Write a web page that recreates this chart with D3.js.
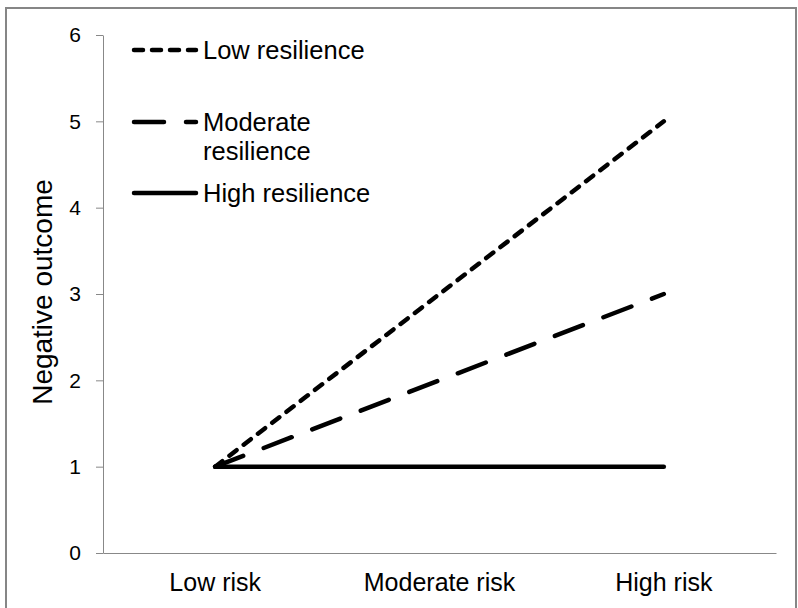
<!DOCTYPE html>
<html>
<head>
<meta charset="utf-8">
<script src="https://cdn.jsdelivr.net/npm/d3@7"></script>
<style>
  body { margin: 0; background: #fff; }
  text { font-family: "Liberation Sans", Arial, sans-serif; fill: #000; }
</style>
</head>
<body>
<div id="chart"></div>
<script>
const categories = ["Low risk", "Moderate risk", "High risk"];
const lowResilience = [1, 3, 5];
const moderateResilience = [1, 2, 3];
const highResilience = [1, 1, 1];
const yTicks = [0, 1, 2, 3, 4, 5, 6];

const series = [
  { name: "Low resilience", values: lowResilience, dash: "9,9" },
  { name: "Moderate resilience", values: moderateResilience, dash: "30,22" },
  { name: "High resilience", values: highResilience, dash: null }
];

const width = 798, height = 608;
const margin = { top: 35, right: 22, bottom: 55, left: 103 };

const svg = d3.select("#chart").append("svg")
  .attr("width", width)
  .attr("height", height);

// outer border
svg.append("rect")
  .attr("x", 6).attr("y", 8)
  .attr("width", 790).attr("height", 610)
  .attr("fill", "none")
  .attr("stroke", "#868686")
  .attr("stroke-width", 2);

const x = d3.scaleBand()
  .domain(categories)
  .range([margin.left, width - margin.right]);

const y = d3.scaleLinear()
  .domain([0, 6])
  .range([height - margin.bottom, margin.top]);

// y axis
const yAxis = svg.append("g")
  .attr("transform", `translate(${margin.left},0)`)
  .call(d3.axisLeft(y).tickValues(yTicks).tickFormat(d3.format("d"))
    .tickSize(7).tickSizeOuter(0).tickPadding(15));
yAxis.attr("font-size", 21).attr("font-family", null);
yAxis.selectAll("line, path").attr("stroke", "#888");

// x axis
const xAxis = svg.append("g")
  .attr("transform", `translate(0,${y(0)})`)
  .call(d3.axisBottom(x).tickSize(0).tickPadding(20));
xAxis.attr("font-size", 25).attr("font-family", null);
xAxis.select("path").attr("stroke", "#888");

// axis title
svg.append("text")
  .attr("transform", `translate(52,${(y(0) + y(6)) / 2 - 2}) rotate(-90)`)
  .attr("text-anchor", "middle")
  .attr("font-size", 28)
  .text("Negative outcome");

const line = d3.line()
  .x((d, i) => x(categories[i]) + x.bandwidth() / 2)
  .y(d => y(d));

svg.append("g").selectAll("path")
  .data(series)
  .join("path")
    .attr("d", d => line(d.values))
    .attr("fill", "none")
    .attr("stroke", "#000")
    .attr("stroke-width", 4.5)
    .attr("stroke-linecap", "round")
    .attr("stroke-dasharray", d => d.dash);

// legend
const legendY = [50, 122, 193];
const legend = svg.append("g");
series.forEach((s, i) => {
  legend.append("line")
    .attr("x1", 134).attr("x2", 196)
    .attr("y1", legendY[i]).attr("y2", legendY[i])
    .attr("stroke", "#000")
    .attr("stroke-width", 4.5)
    .attr("stroke-linecap", "round")
    .attr("stroke-dasharray", s.dash);
  const t = legend.append("text")
    .attr("x", 203)
    .attr("y", legendY[i] + 9)
    .attr("font-size", 25.5);
  if (s.name === "Moderate resilience") {
    t.append("tspan").attr("x", 203).text("Moderate");
    t.append("tspan").attr("x", 203).attr("dy", 29).text("resilience");
  } else {
    t.text(s.name);
  }
});
</script>
</body>
</html>
